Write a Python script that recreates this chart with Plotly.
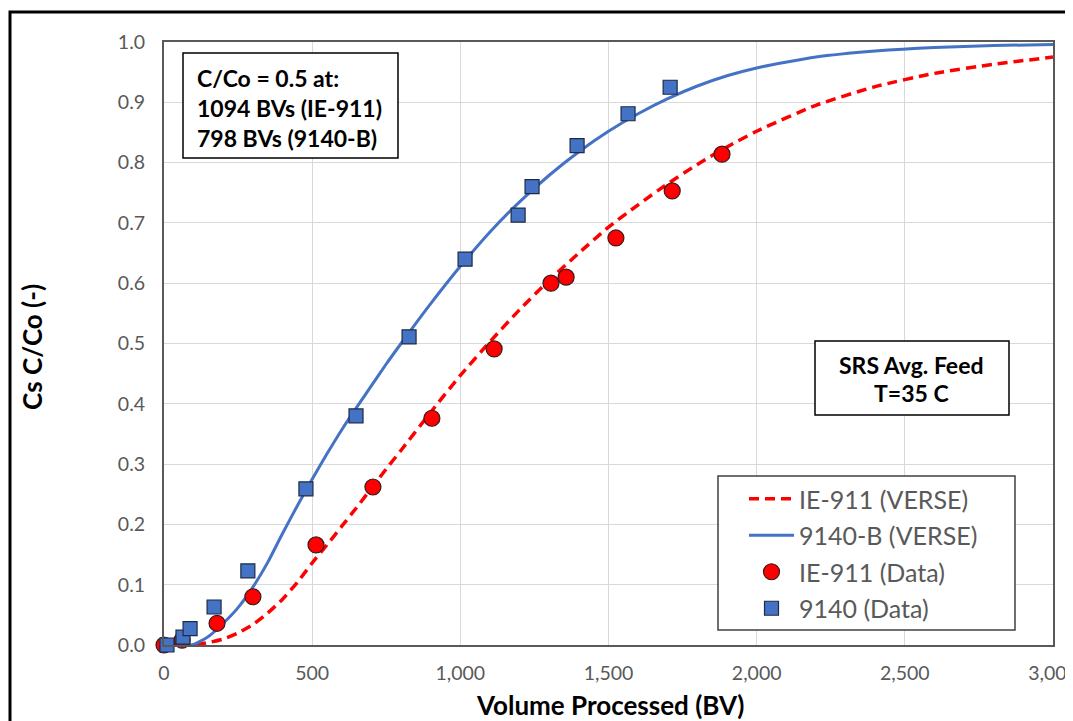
import plotly.graph_objects as go

# ---- data ----
verse_x = [0, 50, 100, 150, 200, 250, 300, 350, 400, 450, 500, 550, 600, 650, 700, 750, 800,
           900, 1000, 1100, 1200, 1300, 1400, 1500, 1600, 1700, 1800, 1900, 2000,
           2200, 2400, 2600, 2800, 3000]
ie911_verse = [0, 0, 0, 0.004, 0.010, 0.020, 0.034, 0.053, 0.076, 0.104, 0.136, 0.166, 0.197,
               0.228, 0.260, 0.292, 0.323, 0.386, 0.447, 0.503, 0.556, 0.605, 0.650, 0.693,
               0.730, 0.765, 0.797, 0.826, 0.852, 0.895, 0.926, 0.948, 0.963, 0.975]
b9140_verse = [0, 0, 0.001, 0.014, 0.036, 0.062, 0.096, 0.137, 0.185, 0.231, 0.275, 0.317, 0.357,
               0.394, 0.430, 0.466, 0.500, 0.566, 0.628, 0.685, 0.735, 0.779, 0.818, 0.852,
               0.881, 0.906, 0.927, 0.944, 0.957, 0.975, 0.985, 0.991, 0.994, 0.996]

ie911_data_x = [0, 61, 179, 300, 513, 705, 904, 1114, 1306, 1357, 1525, 1715, 1883]
ie911_data_y = [0.0, 0.008, 0.036, 0.080, 0.166, 0.262, 0.376, 0.491, 0.600, 0.610, 0.675, 0.753, 0.814]
b9140_data_x = [10, 64, 88, 169, 283, 479, 648, 827, 1016, 1195, 1242, 1394, 1566, 1708]
b9140_data_y = [0.0, 0.013, 0.027, 0.063, 0.123, 0.259, 0.380, 0.511, 0.640, 0.713, 0.760, 0.828, 0.881, 0.925]

box1_lines = ["C/Co = 0.5 at:", "1094 BVs (IE-911)", "798 BVs (9140-B)"]
box2_lines = ["SRS Avg. Feed", "T=35 C"]
x_title = "Volume Processed (BV)"
y_title = "Cs C/Co (-)"

# ---- layout geometry (window pixels; the page body adds an 8px offset) ----
OFF = 8
WIN_W, WIN_H = 1073, 721
W, H = WIN_W - OFF, WIN_H - OFF
PL, PR, PT, PB = 164, 1053, 42, 645          # plot area edges in window pixels
L, R, T, B = PL - OFF, W - (PR - OFF), PT - OFF, H - (PB - OFF)


def px(x):
    return (x - PL) / (PR - PL)


def py(y):
    return (PB - y) / (PB - PT)


FONT = "Lato"
GRAY = "#595959"
RED = "#FF0000"
BLUE = "#4472C4"

fig = go.Figure()
fig.add_trace(go.Scatter(x=verse_x, y=ie911_verse, mode="lines", name="IE-911 (VERSE)",
                         line=dict(color=RED, width=3.5, dash="10px,6px", shape="spline", smoothing=0.6),
                         legendgroup="a"))
fig.add_trace(go.Scatter(x=verse_x, y=b9140_verse, mode="lines", name="9140-B (VERSE)",
                         line=dict(color=BLUE, width=3, shape="spline", smoothing=0.6),
                         legendgroup="b"))
fig.add_trace(go.Scatter(x=ie911_data_x, y=ie911_data_y, mode="markers", name="IE-911 (Data)",
                         marker=dict(symbol="circle", size=16, color=RED,
                                     line=dict(color="#3a1a1a", width=1.2)),
                         cliponaxis=False, legendgroup="c"))
fig.add_trace(go.Scatter(x=b9140_data_x, y=b9140_data_y, mode="markers", name="9140 (Data)",
                         marker=dict(symbol="square", size=14, color=BLUE,
                                     line=dict(color="#1f2a44", width=1.2)),
                         cliponaxis=False, legendgroup="d"))

shapes = [
    # outer frame of the chart
    dict(type="rect", xref="paper", yref="paper", x0=px(10), x1=px(1120), y0=py(780), y1=py(12),
         line=dict(color="black", width=3), fillcolor="rgba(0,0,0,0)", layer="above"),
    # box 1
    dict(type="rect", xref="paper", yref="paper", x0=px(183), x1=px(398), y0=py(158), y1=py(53),
         line=dict(color="black", width=1.5), fillcolor="white", layer="above"),
    # box 2
    dict(type="rect", xref="paper", yref="paper", x0=px(815), x1=px(1009), y0=py(415), y1=py(341),
         line=dict(color="black", width=1.5), fillcolor="white", layer="above"),
    # legend frame
    dict(type="rect", xref="paper", yref="paper", x0=px(718), x1=px(1015), y0=py(630), y1=py(476),
         line=dict(color="#404040", width=1.5), fillcolor="white", layer="above"),
]

annotations = []
for i, t in enumerate(box1_lines):
    annotations.append(dict(text="<b>%s</b>" % t, xref="paper", yref="paper", x=px(195), y=py(78 + 30 * i),
                            xanchor="left", yanchor="middle", showarrow=False,
                            font=dict(family=FONT, size=23, color="black")))
for i, t in enumerate(box2_lines):
    annotations.append(dict(text="<b>%s</b>" % t, xref="paper", yref="paper", x=px(911), y=py(365 + 28 * i),
                            xanchor="center", yanchor="middle", showarrow=False,
                            font=dict(family=FONT, size=23, color="black")))
# axis titles
annotations.append(dict(text="<b>%s</b>" % x_title, xref="paper", yref="paper", x=px(610), y=py(705),
                        xanchor="center", yanchor="middle", showarrow=False,
                        font=dict(family=FONT, size=26, color="black")))
annotations.append(dict(text="<b>%s</b>" % y_title, xref="paper", yref="paper", x=px(32), y=py(347),
                        xanchor="center", yanchor="middle", showarrow=False, textangle=-90,
                        font=dict(family=FONT, size=26, color="black")))

fig.update_layout(
    width=W, height=H,
    margin=dict(l=L, r=R, t=T, b=B, autoexpand=False),
    paper_bgcolor="white", plot_bgcolor="white",
    font=dict(family=FONT, color=GRAY),
    shapes=shapes,
    annotations=annotations,
    showlegend=True,
    legend=dict(x=px(718), y=py(476), xanchor="left", yanchor="top",
                bgcolor="rgba(0,0,0,0)", borderwidth=0,
                font=dict(family=FONT, size=25, color=GRAY),
                tracegroupgap=1, itemwidth=45, indentation=26),
    xaxis=dict(range=[0, 3000], tick0=0, dtick=500, tickformat=",",
               showgrid=True, gridcolor="#d9d9d9", gridwidth=1,
               showline=True, linecolor=GRAY, linewidth=2, mirror=True, zeroline=False,
               ticks="", ticklabelstandoff=10, ticklabeloverflow="allow", automargin=False,
               tickfont=dict(family=FONT, size=19.5, color=GRAY)),
    yaxis=dict(range=[0, 1], tick0=0, dtick=0.1, tickformat=".1f",
               showgrid=True, gridcolor="#d9d9d9", gridwidth=1,
               showline=True, linecolor=GRAY, linewidth=2, mirror=True, zeroline=False,
               ticks="", ticklabelstandoff=13, automargin=False,
               tickfont=dict(family=FONT, size=19.5, color=GRAY)),
)

fig.write_html("out.html")
